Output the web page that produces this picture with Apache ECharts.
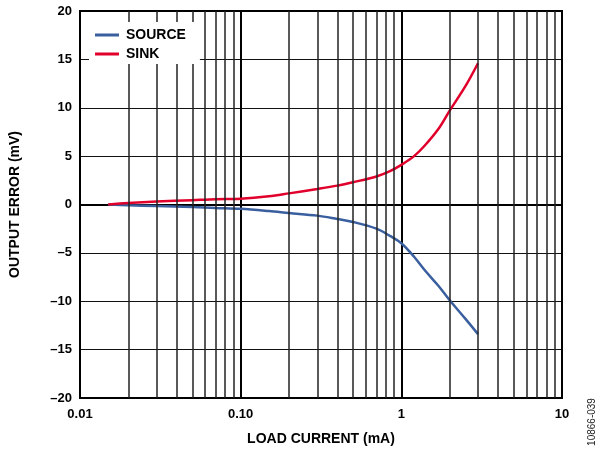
<!DOCTYPE html>
<html><head><meta charset="utf-8">
<script src="https://cdn.jsdelivr.net/npm/echarts@6/dist/echarts.min.js"></script>
<style>html,body{margin:0;padding:0;background:#fff}#c{width:600px;height:455px}</style>
</head><body><div id="c"></div>
<script>
var current = [0.015, 0.02, 0.03, 0.05, 0.07, 0.1, 0.15, 0.2, 0.3, 0.4, 0.5, 0.7, 0.85, 1, 1.2, 1.4, 1.7, 2, 2.5, 3];
var sink = [0, 0.15, 0.3, 0.45, 0.55, 0.6, 0.85, 1.15, 1.6, 1.95, 2.3, 2.9, 3.45, 4.1, 5.0, 6.1, 7.8, 9.7, 12.2, 14.6];
var source = [0, -0.08, -0.15, -0.25, -0.35, -0.45, -0.68, -0.88, -1.15, -1.5, -1.8, -2.5, -3.25, -4.0, -5.4, -6.8, -8.4, -9.9, -11.8, -13.4];
var minorGrid = [0.02,0.03,0.04,0.05,0.06,0.07,0.08,0.09,0.2,0.3,0.4,0.5,0.6,0.7,0.8,0.9,2,3,4,5,6,7,8,9];
var xTickLabels = {'0.01':'0.01','0.1':'0.10','1':'1','10':'10'};

var FONT = 'Liberation Sans, Arial, sans-serif';
function pairs(ys){ return current.map(function(x,i){return [x, ys[i]];}); }

var chart = echarts.init(document.getElementById('c'));
chart.setOption({
  animation:false,
  backgroundColor:'#fff',
  grid:{left:79,right:38,top:11,bottom:57,show:true,borderColor:'#000',borderWidth:2,z:5},
  legend:{
    left:89, top:22, orient:'vertical', itemGap:5, itemWidth:24, itemHeight:3, icon:'rect',
    backgroundColor:'#fff', padding:[6,14,3,6], z:20,
    textStyle:{fontFamily:FONT,fontWeight:'bold',fontSize:14,color:'#000',padding:[0,0,0,2]},
    data:[{name:'SOURCE'},{name:'SINK'}]
  },
  xAxis:{
    type:'log', logBase:10, min:0.01, max:10,
    name:'LOAD CURRENT (mA)', nameLocation:'middle', nameGap:34,
    nameTextStyle:{fontFamily:FONT,fontWeight:'bold',fontSize:14,color:'#000'},
    axisLine:{show:true,lineStyle:{color:'#000',width:2}},
    axisTick:{show:false},
    axisLabel:{margin:10,fontFamily:FONT,fontWeight:'bold',fontSize:13,color:'#000',
      formatter:function(v){var k=String(+v.toPrecision(6)); return xTickLabels[k]!==undefined?xTickLabels[k]:k;}},
    splitLine:{show:true,lineStyle:{color:'#000',width:2}}
  },
  yAxis:{
    type:'value', min:-20, max:20, interval:5,
    name:'OUTPUT ERROR (mV)', nameLocation:'middle', nameGap:58, nameRotate:90,
    nameTextStyle:{fontFamily:FONT,fontWeight:'bold',fontSize:14,color:'#000'},
    axisLine:{show:true,lineStyle:{color:'#000',width:2}},
    axisTick:{show:false},
    axisLabel:{margin:8,fontFamily:FONT,fontWeight:'bold',fontSize:13,color:'#000',
      formatter:function(v){return String(v).replace('-','\u2013');}},
    splitLine:{show:true,lineStyle:{color:'#111',width:1}}
  },
  graphic:[{
    type:'text', x:592, y:422, rotation:Math.PI/2,
    style:{text:'10866-039',fontFamily:FONT,fontSize:10,fill:'#222',textAlign:'center',textVerticalAlign:'middle'}
  }],
  series:[
    {name:'GRID', type:'line', data:[], silent:true,
      markLine:{silent:true,symbol:'none',label:{show:false},animation:false,
        lineStyle:{color:'#222',width:1.5,type:'solid'},
        data:minorGrid.map(function(v){return {xAxis:v};})}},
    {name:'SOURCE', type:'line', data:pairs(source), smooth:0.35, symbol:'none', showSymbol:false, z:4,
      lineStyle:{color:'#3a5f9f',width:2.5}, itemStyle:{color:'#3a5f9f'}},
    {name:'SINK', type:'line', data:pairs(sink), smooth:0.35, symbol:'none', showSymbol:false, z:4,
      lineStyle:{color:'#e0002b',width:2.5}, itemStyle:{color:'#e0002b'}}
  ]
});
</script></body></html>
